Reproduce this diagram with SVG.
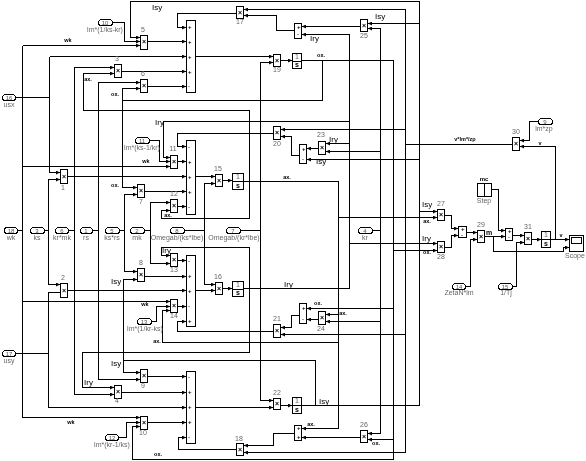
<svg xmlns="http://www.w3.org/2000/svg" width="586" height="461" viewBox="0 0 586 461">
<style>
text{font-family:"Liberation Sans",Arial,sans-serif}
#all{filter:grayscale(1)}
.g{font-size:7px;fill:#666;text-anchor:middle}
.n{font-size:7px;fill:#666;text-anchor:middle}
.t{font-size:6px;fill:#555;text-anchor:middle}
.k{font-size:8px;fill:#000}
.s{font-size:5.5px;font-weight:bold;fill:#000;text-anchor:middle}
.x{font-size:7px;fill:#000;text-anchor:middle;font-weight:bold}
.p{font-size:6px;fill:#000;font-weight:bold}
rect{fill:#fff;stroke:#000;stroke-width:1;shape-rendering:crispEdges}
#wires path{fill:none;stroke:#000;stroke-width:1;shape-rendering:crispEdges}
#wires path.a{marker-end:url(#ah)}
line{stroke:#000;stroke-width:1;shape-rendering:crispEdges}
</style>
<defs><marker id="ah" markerUnits="userSpaceOnUse" markerWidth="4" markerHeight="4" refX="4" refY="2" orient="auto"><path d="M0 0L4 2L0 4z" fill="#000"/></marker></defs>
<g id="all">
<rect x="-2" y="-2" width="590" height="465" style="stroke:none"/>
<g id="wires">
<path class="a" d="M301 405.5H419.5V1.5H130.5V37.5H140"/><path class="a" d="M419.5 23.5H368"/><path class="a" d="M419.5 159.5H307"/><path class="a" d="M419.5 211.5H437"/><path class="a" d="M315.5 405.5V360.5H123.5V372.5H140"/><path class="a" d="M123.5 360.5V279.5H137"/>
<path class="a" d="M302 60.5H393.5V459.5H132.5V426.5H140"/><path class="a" d="M393.5 250.5H437"/><path class="a" d="M393.5 308.5H307"/><path class="a" d="M393.5 439.5H368"/><path class="a" d="M322.5 60.5V100.5H122.5V88.5H140"/><path class="a" d="M122.5 88.5V187.5H137"/>
<path d="M512 144.5H405.5"/><path class="a" d="M405.5 9.5H244"/><path class="a" d="M405.5 9.5V452.5H244"/><path class="a" d="M405.5 129.5H281"/><path class="a" d="M405.5 334.5H281"/>
<path class="a" d="M244 288.5H349.5V34.5H302"/><path class="a" d="M349.5 121.5H163.5V157.5H170"/><path class="a" d="M349.5 143.5H326"/><path class="a" d="M349.5 243.5H437"/>
<path d="M372 230.5H380.5"/><path class="a" d="M380.5 433.5V28.5H368"/><path class="a" d="M380.5 151.5H326"/><path class="a" d="M380.5 321.5H326"/><path class="a" d="M380.5 433.5H368"/>
<path class="a" d="M244 181.5H338.5V428.5H302"/><path class="a" d="M338.5 217.5H437"/><path class="a" d="M338.5 342.5H162.5V310.5H170"/><path class="a" d="M338.5 314.5H326"/>
<path class="a" d="M249.5 218.5H161.5V210.5H170"/><path class="a" d="M249.5 218.5V110.5H83.5V73.5H114"/><path class="a" d="M249.5 247.5H161.5V255.5H170"/><path class="a" d="M249.5 247.5V352.5H82.5V387.5H114"/>
<path class="a" d="M196 56.5H273"/><path d="M240 230.5H260.5"/><path class="a" d="M260.5 400.5V62.5H273"/><path class="a" d="M260.5 400.5H273"/><path class="a" d="M281 60.5H292"/>
<path class="a" d="M196 176.5H215"/><path d="M185 230.5H204.5"/><path class="a" d="M204.5 230.5V183.5H215"/><path class="a" d="M204.5 230.5V284.5H215"/><path class="a" d="M222.5 180.5H232"/><path class="a" d="M222.5 288.5H232"/><path class="a" d="M196 290.5H215"/><path class="a" d="M196 407.5H273"/><path class="a" d="M281 405.5H292"/>
<path class="a" d="M236 13.5H177.5V27.5H186"/><path class="a" d="M294 30.5H276.5V15.5H244"/><path class="a" d="M360 26.5H302"/>
<path class="a" d="M273 133.5H177.5V146.5H186"/><path class="a" d="M299 155.5H291.5V136.5H281"/><path class="a" d="M318 148.5H307"/>
<path class="a" d="M273 331.5H177.5V321.5H186"/><path class="a" d="M299 315.5H291.5V327.5H281"/><path class="a" d="M318 319.5H307"/>
<path class="a" d="M236 449.5H178.5V437.5H186"/><path class="a" d="M294 433.5H273.5V445.5H244"/><path class="a" d="M360 437.5H302"/>
<path d="M18 230.5H22.5"/><path class="a" d="M22.5 45.5V417.5H140"/><path class="a" d="M22.5 45.5H140"/><path class="a" d="M22.5 166.5H170"/><path class="a" d="M22.5 301.5H170"/>
<path d="M16 97.5H49.5"/><path class="a" d="M49.5 56.5H186"/><path class="a" d="M49.5 56.5V172.5H60"/>
<path d="M45 230.5H48.5"/><path class="a" d="M48.5 284.5V179.5H60"/><path class="a" d="M48.5 284.5H60"/>
<path d="M16 353.5H48.5"/><path class="a" d="M60 292.5H48.5V407.5H186"/>
<path d="M69 230.5H74.5"/><path class="a" d="M74.5 394.5V67.5H114"/><path class="a" d="M74.5 394.5H114"/>
<path d="M93 230.5H98.5"/><path class="a" d="M98.5 379.5V82.5H140"/><path class="a" d="M98.5 379.5H140"/>
<path d="M120 230.5H124.5"/><path class="a" d="M124.5 271.5V194.5H137"/><path class="a" d="M124.5 271.5H137"/>
<path d="M145 230.5H150.5"/><path class="a" d="M150.5 263.5V202.5H170"/><path class="a" d="M150.5 263.5H170"/>
<path class="a" d="M112 22.5H124.5V41.5H140"/><path class="a" d="M150 140.5H159.5V161.5H170"/><path class="a" d="M152 321.5H156.5V306.5H170"/><path class="a" d="M119 437.5H126.5V422.5H140"/>
<path class="a" d="M147.5 41.5H186"/><path class="a" d="M121.5 71.5H186"/><path class="a" d="M147.5 86.5H186"/><path class="a" d="M177.5 161.5H186"/><path class="a" d="M67.5 176.5H186"/><path class="a" d="M144.5 191.5H186"/><path class="a" d="M177.5 206.5H186"/><path class="a" d="M177.5 260.5H186"/><path class="a" d="M144.5 276.5H186"/><path class="a" d="M67.5 290.5H186"/><path class="a" d="M177.5 306.5H186"/><path class="a" d="M147.5 376.5H186"/><path class="a" d="M121.5 392.5H186"/><path class="a" d="M147.5 422.5H186"/>
<path class="a" d="M444.5 215.5H451.5V228.5H458"/><path class="a" d="M444.5 247.5H451.5V235.5H458"/><path class="a" d="M466.5 232.5H477"/><path class="a" d="M466 286.5H470.5V239.5H477"/><path class="a" d="M484.5 236.5H505"/><path class="a" d="M491.5 189.5H498.5V230.5H505"/><path class="a" d="M512.5 235.5H524"/><path class="a" d="M513 286.5H516.5V242.5H524"/><path class="a" d="M531.5 239.5H541"/><path class="a" d="M550.5 239.5H569"/><path class="a" d="M493.5 236.5V251.5H563.5V247.5H569"/><path class="a" d="M555.5 239.5V146.5H520"/><path class="a" d="M538 121.5H529.5V140.5H520"/>
</g>
<g id="b1"><rect x="60.5" y="169.5" width="7" height="14"/><text class="x" x="64" y="179">×</text><text class="n" x="63" y="190">1</text></g>
<g id="b2"><rect x="60.5" y="283.5" width="7" height="14"/><text class="x" x="64" y="293">×</text><text class="n" x="63" y="280">2</text></g>
<g id="b3"><rect x="114.5" y="64.5" width="7" height="13"/><text class="x" x="118" y="73">×</text><text class="n" x="117" y="61">3</text></g>
<g id="b4"><rect x="114.5" y="385.5" width="7" height="13"/><text class="x" x="118" y="394">×</text><text class="n" x="117" y="403">4</text></g>
<g id="b5"><rect x="140.5" y="35.5" width="7" height="14"/><text class="x" x="144" y="44">×</text><text class="n" x="143" y="32">5</text></g>
<g id="b6"><rect x="140.5" y="79.5" width="7" height="13"/><text class="x" x="144" y="88">×</text><text class="n" x="143" y="76">6</text></g>
<g id="b7"><rect x="137.5" y="184.5" width="7" height="13"/><text class="x" x="141" y="193">×</text><text class="n" x="141" y="204">7</text></g>
<g id="b8"><rect x="137.5" y="268.5" width="7" height="13"/><text class="x" x="141" y="277">×</text><text class="n" x="141" y="265">8</text></g>
<g id="b9"><rect x="140.5" y="369.5" width="7" height="13"/><text class="x" x="144" y="378">×</text><text class="n" x="143" y="388">9</text></g>
<g id="b10"><rect x="140.5" y="416.5" width="7" height="13"/><text class="x" x="144" y="425">×</text><text class="n" x="143" y="435">10</text></g>
<g id="b11"><rect x="170.5" y="155.5" width="7" height="13"/><text class="x" x="174" y="164">×</text><text class="n" x="173" y="151">11</text></g>
<g id="b12"><rect x="170.5" y="199.5" width="7" height="13"/><text class="x" x="174" y="208">×</text><text class="n" x="174" y="196">12</text></g>
<g id="b13"><rect x="170.5" y="253.5" width="7" height="13"/><text class="x" x="174" y="262">×</text><text class="n" x="174" y="272">13</text></g>
<g id="b14"><rect x="170.5" y="299.5" width="7" height="13"/><text class="x" x="174" y="308">×</text><text class="n" x="174" y="318">14</text></g>
<g id="b15"><rect x="215.5" y="174.5" width="7" height="12"/><text class="x" x="219" y="183">×</text><text class="n" x="218" y="171">15</text></g>
<g id="b16"><rect x="215.5" y="282.5" width="7" height="12"/><text class="x" x="219" y="291">×</text><text class="n" x="218" y="279">16</text></g>
<g id="b17"><rect x="236.5" y="6.5" width="7" height="12"/><text class="x" x="240" y="15">×</text><text class="n" x="240" y="24">17</text></g>
<g id="b18"><rect x="236.5" y="443.5" width="7" height="12"/><text class="x" x="240" y="452">×</text><text class="n" x="239" y="441">18</text></g>
<g id="b19"><rect x="273.5" y="54.5" width="7" height="12"/><text class="x" x="277" y="63">×</text><text class="n" x="277" y="72">19</text></g>
<g id="b20"><rect x="273.5" y="126.5" width="7" height="13"/><text class="x" x="277" y="135">×</text><text class="n" x="277" y="146">20</text></g>
<g id="b21"><rect x="273.5" y="324.5" width="7" height="13"/><text class="x" x="277" y="333">×</text><text class="n" x="277" y="321">21</text></g>
<g id="b22"><rect x="273.5" y="398.5" width="7" height="11"/><text class="x" x="277" y="406">×</text><text class="n" x="277" y="395">22</text></g>
<g id="b23"><rect x="318.5" y="141.5" width="7" height="13"/><text class="x" x="322" y="150">×</text><text class="n" x="321" y="137">23</text></g>
<g id="b24"><rect x="318.5" y="311.5" width="7" height="13"/><text class="x" x="322" y="320">×</text><text class="n" x="321" y="331">24</text></g>
<g id="b25"><rect x="360.5" y="19.5" width="7" height="12"/><text class="x" x="364" y="28">×</text><text class="n" x="364" y="38">25</text></g>
<g id="b26"><rect x="360.5" y="430.5" width="7" height="12"/><text class="x" x="364" y="439">×</text><text class="n" x="364" y="427">26</text></g>
<g id="b27"><rect x="437.5" y="209.5" width="7" height="11"/><text class="x" x="441" y="217">×</text><text class="n" x="441" y="206">27</text></g>
<g id="b28"><rect x="437.5" y="241.5" width="7" height="11"/><text class="x" x="441" y="249">×</text><text class="n" x="441" y="259">28</text></g>
<g id="b29"><rect x="477.5" y="230.5" width="7" height="12"/><text class="x" x="481" y="239">×</text><text class="n" x="481" y="227">29</text></g>
<g id="b30"><rect x="512.5" y="137.5" width="7" height="13"/><text class="x" x="516" y="146">×</text><text class="n" x="516" y="134">30</text></g>
<g id="b31"><rect x="524.5" y="232.5" width="7" height="12"/><text class="x" x="528" y="241">×</text><text class="n" x="528" y="229">31</text></g>
<g id="s1"><rect x="186.5" y="20.5" width="9" height="72"/><text class="p" x="188" y="29">+</text><text class="p" x="188" y="44">+</text><text class="p" x="188" y="59">+</text><text class="p" x="188" y="74">+</text><text class="p" x="188" y="88">-</text></g>
<g id="s2"><rect x="186.5" y="140.5" width="9" height="74"/><text class="p" x="188" y="149">-</text><text class="p" x="188" y="164">+</text><text class="p" x="188" y="179">+</text><text class="p" x="188" y="194">+</text><text class="p" x="188" y="209">-</text></g>
<g id="s3"><rect x="186.5" y="255.5" width="9" height="71"/><text class="p" x="188" y="263">-</text><text class="p" x="188" y="278">+</text><text class="p" x="188" y="293">+</text><text class="p" x="188" y="308">-</text><text class="p" x="188" y="323">+</text></g>
<g id="s4"><rect x="186.5" y="371.5" width="9" height="72"/><text class="p" x="188" y="379">-</text><text class="p" x="188" y="394">+</text><text class="p" x="188" y="409">+</text><text class="p" x="188" y="424">+</text><text class="p" x="188" y="439">-</text></g>
<g id="sa"><rect x="294.5" y="23.5" width="7" height="15"/><text class="p" x="297" y="29">+</text><text class="p" x="297" y="36">-</text></g>
<g id="sb"><rect x="299.5" y="144.5" width="7" height="19"/><text class="p" x="302" y="151">+</text><text class="p" x="302" y="161">-</text></g>
<g id="sc"><rect x="299.5" y="303.5" width="7" height="20"/><text class="p" x="302" y="310">+</text><text class="p" x="302" y="321">-</text></g>
<g id="sd"><rect x="294.5" y="425.5" width="7" height="15"/><text class="p" x="297" y="430">+</text><text class="p" x="297" y="439">+</text></g>
<g id="se"><rect x="458.5" y="226.5" width="8" height="11"/><text class="p" x="461" y="231">+</text><text class="p" x="461" y="237">-</text></g>
<g id="sf"><rect x="505.5" y="228.5" width="7" height="12"/><text class="p" x="508" y="233">+</text><text class="p" x="508" y="239">-</text></g>
<g id="i19"><rect x="292.5" y="53.5" width="9" height="15"/><line x1="293" y1="61" x2="301" y2="61"/><text class="n" x="297" y="59">1</text><text class="x" x="297" y="67">s</text></g>
<g id="i15"><rect x="232.5" y="173.5" width="11" height="16"/><line x1="233" y1="181" x2="243" y2="181"/><text class="n" x="238" y="179">1</text><text class="x" x="238" y="188">s</text></g>
<g id="i16"><rect x="232.5" y="281.5" width="11" height="15"/><line x1="233" y1="289" x2="243" y2="289"/><text class="n" x="238" y="287">1</text><text class="x" x="238" y="295">s</text></g>
<g id="i22"><rect x="292.5" y="397.5" width="9" height="16"/><line x1="293" y1="405" x2="301" y2="405"/><text class="n" x="297" y="403">1</text><text class="x" x="297" y="412">s</text></g>
<g id="i31"><rect x="541.5" y="231.5" width="9" height="16"/><line x1="542" y1="239" x2="550" y2="239"/><text class="n" x="546" y="237">1</text><text class="x" x="546" y="246">s</text></g>
<g id="g16"><rect x="2.5" y="94.5" width="13" height="6" rx="3"/><text class="t" x="9" y="100">16</text><text class="g" x="9" y="107">usx</text></g>
<g id="g17"><rect x="2.5" y="350.5" width="13" height="6" rx="3"/><text class="t" x="9" y="356">17</text><text class="g" x="9" y="363">usy</text></g>
<g id="g18"><rect x="4.5" y="227.5" width="13" height="6" rx="3"/><text class="t" x="11" y="233">18</text><text class="g" x="11" y="240">wk</text></g>
<g id="g3"><rect x="30.5" y="227.5" width="14" height="6" rx="3"/><text class="t" x="37" y="233">3</text><text class="g" x="37" y="240">ks</text></g>
<g id="g6"><rect x="55.5" y="227.5" width="13" height="6" rx="3"/><text class="t" x="62" y="233">6</text><text class="g" x="62" y="240">kr*mk</text></g>
<g id="g1"><rect x="80.5" y="227.5" width="12" height="6" rx="3"/><text class="t" x="86" y="233">1</text><text class="g" x="86" y="240">rs</text></g>
<g id="g5"><rect x="105.5" y="227.5" width="14" height="6" rx="3"/><text class="t" x="112" y="233">5</text><text class="g" x="112" y="240">ks*rs</text></g>
<g id="g2"><rect x="130.5" y="227.5" width="14" height="6" rx="3"/><text class="t" x="137" y="233">2</text><text class="g" x="137" y="240">mk</text></g>
<g id="g8"><rect x="170.5" y="227.5" width="14" height="6" rx="3"/><text class="t" x="177" y="233">8</text><text class="g" x="177" y="240">Omegab/(ks*lbe)</text></g>
<g id="g7"><rect x="226.5" y="227.5" width="14" height="6" rx="3"/><text class="t" x="233" y="233">7</text><text class="g" x="234" y="240">Omegab/(kr*lbe)</text></g>
<g id="g4"><rect x="358.5" y="227.5" width="14" height="6" rx="3"/><text class="t" x="365" y="233">4</text><text class="g" x="365" y="240">kr</text></g>
<g id="g10"><rect x="98.5" y="19.5" width="14" height="6" rx="3"/><text class="t" x="105" y="25">10</text><text class="g" x="105" y="32">lm*(1/ks-kr)</text></g>
<g id="g11"><rect x="135.5" y="137.5" width="14" height="6" rx="3"/><text class="t" x="142" y="143">11</text><text class="g" x="142" y="150">lm*(ks-1/kr)</text></g>
<g id="g13"><rect x="137.5" y="318.5" width="14" height="6" rx="3"/><text class="t" x="144" y="324">13</text><text class="g" x="145" y="331">lm*(1/kr-ks)</text></g>
<g id="g12"><rect x="105.5" y="434.5" width="13" height="6" rx="3"/><text class="t" x="112" y="440">12</text><text class="g" x="112" y="447">lm*(kr-1/ks)</text></g>
<g id="g9"><rect x="538.5" y="118.5" width="14" height="6" rx="3"/><text class="t" x="545" y="124">9</text><text class="g" x="544" y="131">lm*zp</text></g>
<g id="g14"><rect x="452.5" y="283.5" width="13" height="6" rx="3"/><text class="t" x="459" y="289">14</text><text class="g" x="459" y="295">ZetaN*lm</text></g>
<g id="g15"><rect x="498.5" y="283.5" width="14" height="6" rx="3"/><text class="t" x="505" y="289">15</text><text class="g" x="506" y="295">1/Tj</text></g>
<g id="step"><rect x="477.5" y="183.5" width="14" height="13"/><line x1="484.5" y1="184" x2="484.5" y2="196"/><text class="s" x="484" y="181" style="font-size:6px">mc</text><text class="g" x="484" y="203">Step</text></g>
<g id="scope"><rect x="569.5" y="235.5" width="14" height="16"/><rect x="571.5" y="237.5" width="10" height="6"/><text class="g" x="575" y="258">Scope</text></g>
<g id="signals">
<text class="k" x="152" y="10">Isy</text><text class="k" x="375" y="19">Isy</text><text class="k" x="310" y="41">Iry</text><text class="k" x="155" y="125">Iry</text><text class="k" x="329" y="142">Iry</text><text class="k" x="316" y="164">Isy</text><text class="k" x="111" y="284">Isy</text><text class="k" x="162" y="253">Iry</text><text class="k" x="284" y="287">Iry</text><text class="k" x="111" y="366">Isy</text><text class="k" x="84" y="385">Iry</text><text class="k" x="319" y="404">Isy</text><text class="k" x="422" y="207">Isy</text><text class="k" x="422" y="241">Iry</text>
<text class="s" x="68" y="42">wk</text><text class="s" x="146" y="163">wk</text><text class="s" x="145" y="306">wk</text><text class="s" x="71" y="424">wk</text>
<text class="s" x="88" y="81">ax.</text><text class="s" x="115" y="96">ox.</text><text class="s" x="321" y="57">ox.</text><text class="s" x="115" y="187">ox.</text><text class="s" x="168" y="217">ax.</text><text class="s" x="287" y="179">ax.</text><text class="s" x="157" y="343">ax.</text><text class="s" x="158" y="456">ox.</text><text class="s" x="318" y="305">ox.</text><text class="s" x="343" y="315">ax.</text><text class="s" x="311" y="426">ax.</text><text class="s" x="376" y="445">ox.</text><text class="s" x="427" y="223">ax.</text><text class="s" x="427" y="254">ox.</text>
<text class="s" x="465" y="141">v*lm*/zp</text><text class="s" x="540" y="145">v</text><text class="s" x="561" y="237">v</text><text class="s" x="489" y="235" style="font-size:7px">m</text>
</g>
</g>
</svg>
